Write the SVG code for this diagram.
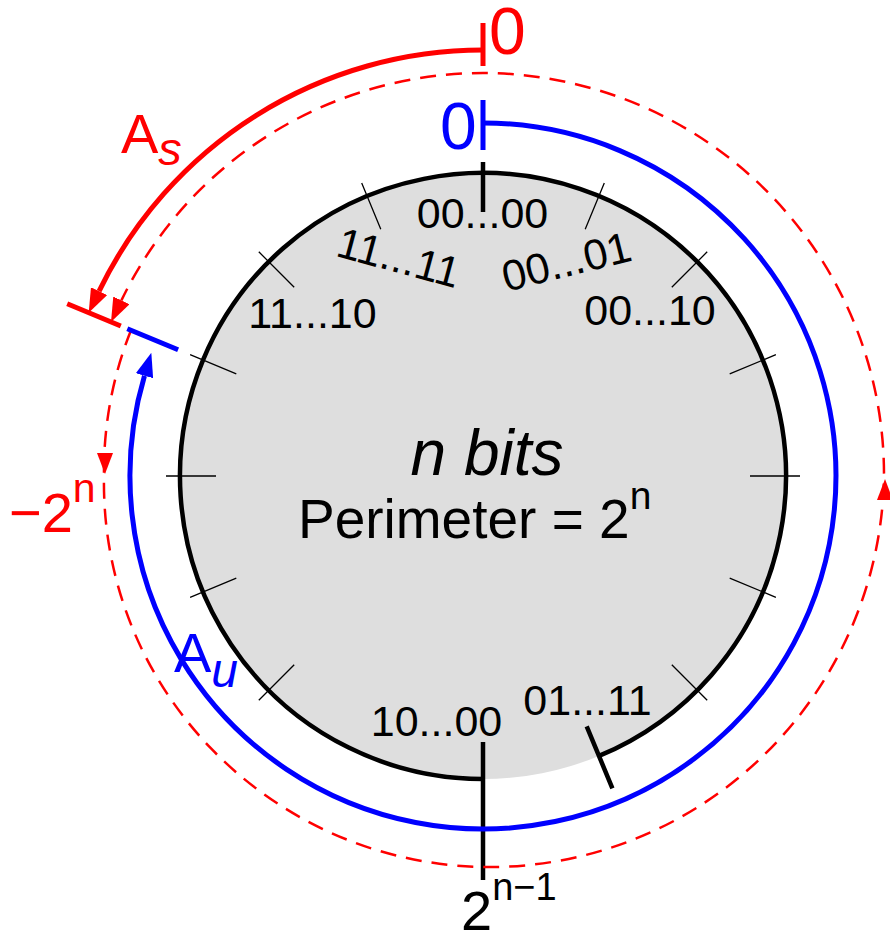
<svg xmlns="http://www.w3.org/2000/svg" width="890" height="932" viewBox="0 0 890 932">
<style>
text{font-family:"Liberation Sans",Arial,Helvetica,sans-serif;}
.k{fill:#000;}
.r{fill:#f00;}
.b{fill:#00f;}
.thin{stroke:#000;stroke-width:1.3;fill:none;}
.thick{stroke:#000;stroke-width:4.5;fill:none;}
.lab{font-size:43px;text-anchor:middle;}
</style>
<defs>
<marker id="ahR" markerUnits="userSpaceOnUse" markerWidth="24" markerHeight="18" viewBox="0 0 24 18" refX="0" refY="9" orient="auto"><path d="M0,0 L24,9 L0,18 z" fill="#f00"/></marker>
<marker id="ahB" markerUnits="userSpaceOnUse" markerWidth="24" markerHeight="18" viewBox="0 0 24 18" refX="0" refY="9" orient="auto"><path d="M0,0 L24,9 L0,18 z" fill="#00f"/></marker>
</defs>
<rect width="890" height="932" fill="#fff"/>
<g id="disc">
<circle cx="483" cy="476" r="303" fill="#dedede"/>
<path class="thick" d="M 483 779 A 303 303 0 1 1 599.0 755.9"/>
<g id="ticks">
<path class="thin" d="M585.2 229.3L604.3 183.1M671.8 287.2L707.2 251.8M729.7 373.8L775.9 354.7M750 476L800 476M729.7 578.2L775.9 597.3M671.8 664.8L707.2 700.2M294.2 664.8L258.8 700.2M236.3 578.2L190.1 597.3M216 476L166 476M236.3 373.8L190.1 354.7M294.2 287.2L258.8 251.8M380.8 229.3L361.7 183.1"/>
<path class="thick" d="M483 162L483 212M483 742L483 880M586.7 726.4L612.4 788.3"/>
</g>
</g>
<g id="connectors">
<path id="dashed" d="M 131.0 330.2 A 380 380 0 0 0 104 476 A 382 382 0 0 0 210.8 748.2 A 388 388 0 0 0 483 867 A 393.5 393.5 0 0 0 763.0 756.0 A 398.5 398.5 0 0 0 884 476 A 401.5 401.5 0 0 0 767.3 191.7 A 402.5 402.5 0 0 0 483 73 A 402.7 402.7 0 0 0 198.4 191.4 A 402.2 402.2 0 0 0 121.4 300.4" fill="none" stroke="#f00" stroke-width="2.5" stroke-dasharray="16 10" marker-end="url(#ahR)"/>
<polygon points="97,453 113,453 105,474" fill="#f00"/>
<polygon points="877,500 893,500 885,479" fill="#f00"/>
<path id="signed" d="M 483 50 A 426 426 0 0 0 99.1 291.2" fill="none" stroke="#f00" stroke-width="5" marker-end="url(#ahR)"/>
<path id="unsigned" d="M 483 123 A 353 353 0 1 1 144.5 375.7" fill="none" stroke="#00f" stroke-width="5" marker-end="url(#ahB)"/>
<path d="M483 23L483 66M120.8 326.0L67.2 303.8" stroke="#f00" stroke-width="5" fill="none"/>
<path d="M483 100L483 150M178.1 349.7L127.3 328.7" stroke="#00f" stroke-width="5" fill="none"/>
</g>
<g id="labels">
<text class="r" x="489" y="54" font-size="66">0</text>
<text class="b" x="440" y="149" font-size="66">0</text>
<text class="r" x="121" y="153" font-size="56">A<tspan font-style="italic" font-size="47" dy="12">s</tspan></text>
<text class="b" x="174" y="672" font-size="56">A<tspan font-style="italic" font-size="48" dy="15">u</tspan></text>
<text class="r" x="9" y="532" font-size="56">−2<tspan font-size="41" dy="-30">n</tspan></text>
<text class="k" x="461" y="930" font-size="56">2<tspan font-size="38" dy="-30">n−1</tspan></text>
<text class="k lab" x="482.5" y="228">00...00</text>
<text class="k lab" x="312.5" y="328">11...10</text>
<text class="k lab" x="650" y="325">00...10</text>
<text class="k lab" x="436.5" y="736">10...00</text>
<text class="k lab" x="587.5" y="715">01...11</text>
<text class="k lab" x="570" y="276" transform="rotate(-14 570 276)">00...01</text>
<text class="k lab" x="395" y="272" transform="rotate(15 395 272)">11...11</text>
<text class="k" x="487" y="475" font-size="64" font-style="italic" text-anchor="middle">n bits</text>
<text class="k" x="298" y="538" font-size="55">Perimeter = 2<tspan font-size="39" dy="-29">n</tspan></text>
</g>
</svg>
